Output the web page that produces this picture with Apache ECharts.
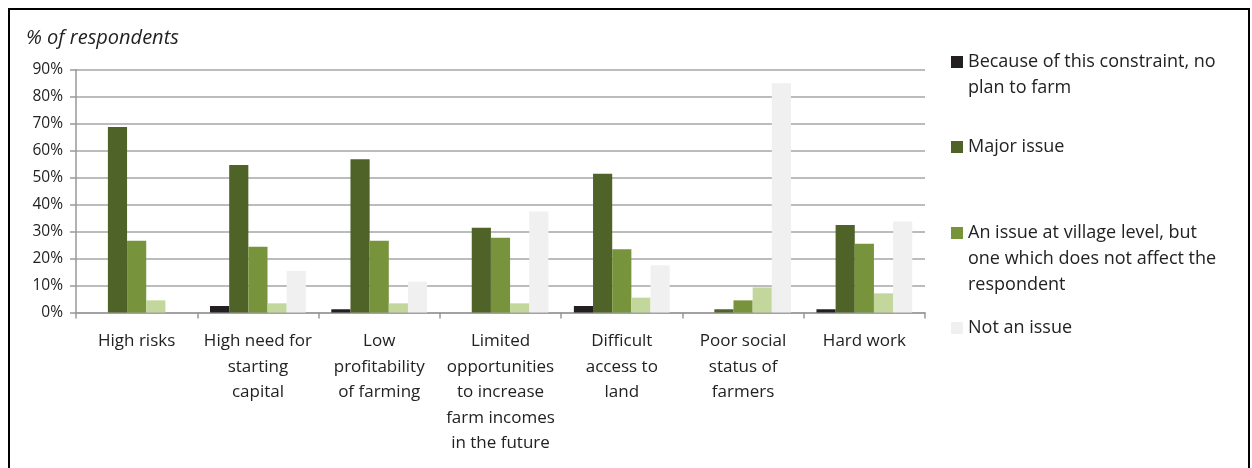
<!DOCTYPE html>
<html>
<head>
<meta charset="utf-8">
<script src="https://cdn.jsdelivr.net/npm/echarts@6/dist/echarts.min.js"></script>
<style>
html,body{margin:0;padding:0;background:#fff;}
#c{width:1252px;height:468px;}
</style>
</head>
<body>
<div id="c"></div>
<script>
const categories = ["High risks", "High need for\nstarting\ncapital", "Low\nprofitability\nof farming", "Limited\nopportunities\nto increase\nfarm incomes\nin the future", "Difficult\naccess to\nland", "Poor social\nstatus of\nfarmers", "Hard work"];
const seriesNames = ["Because of this constraint, no\nplan to farm", "Major issue", "An issue at village level, but\none which does not affect the\nrespondent", "Other", "Not an issue"];
const noPlan = [0, 2.4, 1.2, 0, 2.4, 0, 1.2];
const majorIssue = [68.8, 54.7, 56.8, 31.4, 51.4, 1.2, 32.4];
const villageIssue = [26.6, 24.4, 26.6, 27.7, 23.4, 4.5, 25.5];
const minorIssue = [4.5, 3.4, 3.4, 3.4, 5.5, 9.3, 7.1];
const notIssue = [0, 15.4, 11.4, 37.4, 17.5, 85, 33.7];
const yTicks = [0, 90, 10];
const colors = ["#231f20", "#4f6228", "#77933c", "#c3d69b", "#eff0ef"];

const FONT = "Open Sans";
const chart = echarts.init(document.getElementById('c'), null, {renderer: 'canvas'});
const dataSets = [noPlan, majorIssue, villageIssue, minorIssue, notIssue];
const LH = 26;
function legendAt(name, top, lines) {
  return {
    data: [name], left: 946, top: top - (lines - 1) * LH, orient: 'vertical',
    itemWidth: 12, itemHeight: 12, itemGap: 0, selectedMode: false,
    icon: 'rect',
    formatter: n => '\n'.repeat(lines - 1) + n,
    textStyle: {fontFamily: FONT, fontSize: 18, color: '#222', lineHeight: LH}
  };
}
chart.setOption({
  animation: false,
  color: colors,
  graphic: [{type: 'rect', shape: {x: 9, y: 9, width: 1240, height: 520},
    style: {fill: 'none', stroke: '#000', lineWidth: 2}, silent: true}],
  title: {text: '% of respondents', left: 21, top: 23,
    textStyle: {fontFamily: FONT, fontStyle: 'italic', fontWeight: 'normal', fontSize: 20, color: '#222'}},
  legend: [
    legendAt(seriesNames[0], 44, 2),
    legendAt(seriesNames[1], 129, 1),
    legendAt(seriesNames[2], 215, 3),
    legendAt(seriesNames[4], 310, 1)
  ],
  grid: {left: 76, right: 327, top: 69.7, bottom: 155.5, containLabel: false},
  xAxis: {
    type: 'category', data: categories,
    axisLine: {lineStyle: {color: '#999', width: 1.5}},
    axisTick: {show: true, length: 6, lineStyle: {color: '#999', width: 1.5}},
    axisLabel: {fontFamily: FONT, fontSize: 17, color: '#222', lineHeight: 25.5, margin: 16, interval: 0}
  },
  yAxis: {
    type: 'value', min: yTicks[0], max: yTicks[1], interval: yTicks[2],
    axisLine: {show: true, lineStyle: {color: '#999', width: 1.5}},
    axisTick: {show: true, length: 6, lineStyle: {color: '#999', width: 1.5}},
    splitLine: {lineStyle: {color: '#a6a6a6', width: 1.5}},
    axisLabel: {formatter: '{value}%', fontFamily: FONT, fontSize: 15.5, color: '#222', margin: 13}
  },
  series: dataSets.map((d, i) => ({
    name: seriesNames[i], type: 'bar', data: d,
    barGap: '0%', barCategoryGap: '21%',
    itemStyle: {color: colors[i]}
  }))
});
</script>
</body>
</html>
